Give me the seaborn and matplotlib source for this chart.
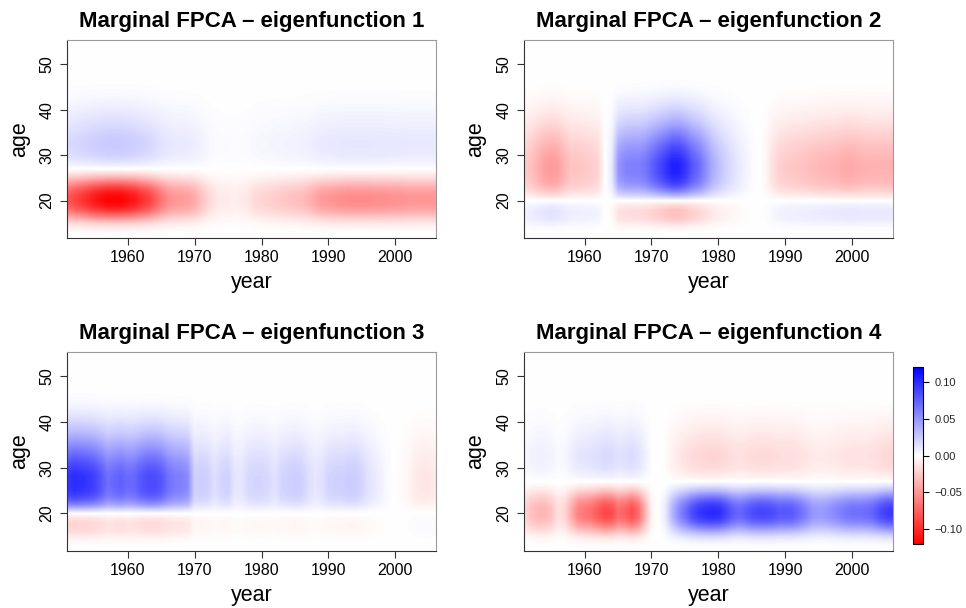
import numpy as np
import matplotlib
matplotlib.use("Agg")
import matplotlib.pyplot as plt
import seaborn as sns

# ---------------- data ----------------
YEARS = np.arange(1951, 2007)          # 56 calendar years
AGES = np.arange(12, 56)               # 44 ages

# age profiles (shape of each marginal eigenfunction along age), ages 12..55
age_ef1 = [0.0, -0.02, -0.08, -0.2, -0.4, -0.62, -0.82, -0.95, -1.0, -0.98,
           -0.9, -0.75, -0.55, -0.33, -0.15, 0.0, 0.08, 0.14, 0.18, 0.2,
           0.21, 0.21, 0.2, 0.18, 0.16, 0.14, 0.12, 0.1, 0.08, 0.06,
           0.045, 0.03, 0.02, 0.012, 0.006, 0.003, 0, 0, 0, 0,
           0, 0, 0, 0]
age_ef2 = [0.0, -0.01, -0.05, -0.15, -0.25, -0.28, -0.27, -0.18, 0.0, 0.3,
           0.55, 0.75, 0.88, 0.95, 0.99, 1.0, 1.0, 0.97, 0.92, 0.86,
           0.8, 0.72, 0.64, 0.56, 0.48, 0.4, 0.33, 0.27, 0.21, 0.16,
           0.12, 0.08, 0.05, 0.03, 0.015, 0.005, 0, 0, 0, 0,
           0, 0, 0, 0]
age_ef3 = [0.0, -0.01, -0.04, -0.1, -0.17, -0.2, -0.2, -0.14, 0.0, 0.3,
           0.6, 0.8, 0.92, 0.98, 1.0, 1.0, 1.0, 0.97, 0.92, 0.86,
           0.79, 0.71, 0.63, 0.55, 0.47, 0.39, 0.32, 0.26, 0.2, 0.15,
           0.11, 0.07, 0.045, 0.025, 0.012, 0.005, 0, 0, 0, 0,
           0, 0, 0, 0]
age_ef4 = [0.0, 0.02, 0.08, 0.2, 0.4, 0.62, 0.82, 0.95, 1.0, 0.98,
           0.9, 0.75, 0.55, 0.33, 0.15, 0.0, -0.08, -0.13, -0.17, -0.19,
           -0.2, -0.2, -0.19, -0.17, -0.15, -0.13, -0.11, -0.09, -0.07, -0.055,
           -0.04, -0.028, -0.018, -0.01, -0.005, -0.002, 0, 0, 0, 0,
           0, 0, 0, 0]

# year amplitudes, years 1951..2006
year_ef1 = [0.08, 0.088, 0.095, 0.102, 0.11, 0.115, 0.12, 0.12, 0.12, 0.115,
            0.11, 0.10, 0.092, 0.08, 0.066, 0.055, 0.05, 0.048, 0.046, 0.04,
            0.03, 0.02, 0.013, 0.01, 0.01, 0.008, 0.01, 0.012, 0.018, 0.02,
            0.022, 0.024, 0.026, 0.028, 0.03, 0.032, 0.036, 0.042, 0.048, 0.05,
            0.052, 0.054, 0.055, 0.055, 0.055, 0.055, 0.054, 0.054, 0.053, 0.052,
            0.052, 0.05, 0.05, 0.05, 0.05, 0.05]
year_ef2 = [-0.025, -0.03, -0.038, -0.045, -0.048, -0.045, -0.035, -0.028, -0.028, -0.026,
            -0.024, -0.02, 0.0, 0.01, 0.05, 0.058, 0.06, 0.06, 0.065, 0.075,
            0.085, 0.095, 0.105, 0.105, 0.095, 0.08, 0.07, 0.055, 0.04, 0.03,
            0.022, 0.016, 0.01, 0.006, 0.002, 0.0, -0.005, -0.015, -0.022, -0.025,
            -0.027, -0.028, -0.03, -0.032, -0.034, -0.035, -0.036, -0.038, -0.04, -0.04,
            -0.038, -0.036, -0.036, -0.036, -0.036, -0.036]
year_ef3 = [0.095, 0.10, 0.098, 0.095, 0.09, 0.08, 0.068, 0.072, 0.075, 0.07,
            0.072, 0.08, 0.085, 0.085, 0.08, 0.068, 0.062, 0.06, 0.055, 0.022,
            0.024, 0.022, 0.015, 0.02, 0.022, 0.012, 0.012, 0.018, 0.02, 0.02,
            0.018, 0.014, 0.02, 0.022, 0.024, 0.022, 0.016, 0.012, 0.014, 0.02,
            0.022, 0.022, 0.024, 0.024, 0.02, 0.014, 0.01, 0.006, 0.002, 0.0,
            -0.003, -0.005, -0.01, -0.012, -0.012, -0.01]
year_ef4 = [-0.02, -0.03, -0.035, -0.035, -0.028, -0.015, -0.02, -0.04, -0.06, -0.065,
            -0.07, -0.08, -0.088, -0.085, -0.07, -0.075, -0.085, -0.07, -0.035, -0.005,
            0.0, 0.01, 0.035, 0.055, 0.07, 0.085, 0.095, 0.1, 0.102, 0.1,
            0.09, 0.078, 0.072, 0.078, 0.085, 0.088, 0.088, 0.085, 0.08, 0.08,
            0.078, 0.07, 0.06, 0.05, 0.048, 0.05, 0.055, 0.06, 0.065, 0.068,
            0.068, 0.07, 0.075, 0.085, 0.092, 0.095]

TITLES = ["Marginal FPCA \u2013 eigenfunction 1", "Marginal FPCA \u2013 eigenfunction 2",
          "Marginal FPCA \u2013 eigenfunction 3", "Marginal FPCA \u2013 eigenfunction 4"]
XTICKS = [1960, 1970, 1980, 1990, 2000]
YTICKS = [20, 30, 40, 50]
CBAR_TICKS = [0.10, 0.05, 0.00, -0.05, -0.10]
CBAR_LABELS = ["0.10", "0.05", "0.00", "\u22120.05", "\u22120.10"]

# ---------------- style ----------------
sns.set_theme(style="white")
plt.rcParams["font.family"] = ["Liberation Sans", "DejaVu Sans"]

cmap = sns.blend_palette(["#FF0000", "#FFFFFF", "#0000FF"], n_colors=256, as_cmap=True)
VMIN, VMAX = -0.121, 0.121

fig = plt.figure(figsize=(9.66, 6.08), dpi=100)

W, H = 966.0, 608.0
boxes = [(67, 40, 436, 238), (523.7, 40, 893, 238),
         (67, 352.3, 436, 550.7), (523.7, 352.3, 893, 550.7)]
profiles = [(age_ef1, year_ef1), (age_ef2, year_ef2),
            (age_ef3, year_ef3), (age_ef4, year_ef4)]

im = None
for (x0, y0, x1, y1), (ap, yp), title in zip(boxes, profiles, TITLES):
    ax = fig.add_axes([x0 / W, 1 - y1 / H, (x1 - x0) / W, (y1 - y0) / H])
    Z = np.outer(np.asarray(ap), np.asarray(yp))
    im = ax.imshow(Z, extent=(YEARS[0] - 0.5, YEARS[-1] + 0.5, AGES[0] - 0.5, AGES[-1] + 0.5),
                   origin="lower", aspect="auto", cmap=cmap, vmin=VMIN, vmax=VMAX,
                   interpolation="bilinear")
    ax.set_xlim(1950.9, 2006.1)
    ax.set_ylim(11.8, 55.3)
    ax.set_xticks(XTICKS)
    ax.set_yticks(YTICKS)
    ax.tick_params(axis="both", which="both", bottom=True, left=True, direction="out",
                   length=5, width=0.8, color="#333333", labelsize=11.5,
                   labelcolor="black")
    ax.tick_params(axis="x", pad=3.5)
    ax.tick_params(axis="y", pad=4, labelrotation=90)
    for lab in ax.get_yticklabels():
        lab.set_va("center")
    for side in ["left", "bottom"]:
        ax.spines[side].set_color("#333333")
        ax.spines[side].set_linewidth(0.8)
    for side in ["top", "right"]:
        ax.spines[side].set_color("#9a9a9a")
        ax.spines[side].set_linewidth(0.8)
    ax.set_xlabel("year", fontsize=15.5, labelpad=5.5, color="black")
    ax.set_ylabel("age", fontsize=15.5, labelpad=7, color="black")
    ax.set_title(title, fontsize=16, fontweight="bold", pad=9.5, color="black")

cax = fig.add_axes([913.3 / W, 1 - 544 / H, 9.4 / W, 177 / H])
cb = fig.colorbar(im, cax=cax)
cb.set_ticks(CBAR_TICKS)
cb.set_ticklabels(CBAR_LABELS)
cax.tick_params(axis="y", right=True, left=False, direction="out", length=4.5,
                width=0.8, color="black", labelsize=8, pad=4)
cb.outline.set_edgecolor("black")
cb.outline.set_linewidth(0.8)

fig.savefig("out.png", dpi=100)
